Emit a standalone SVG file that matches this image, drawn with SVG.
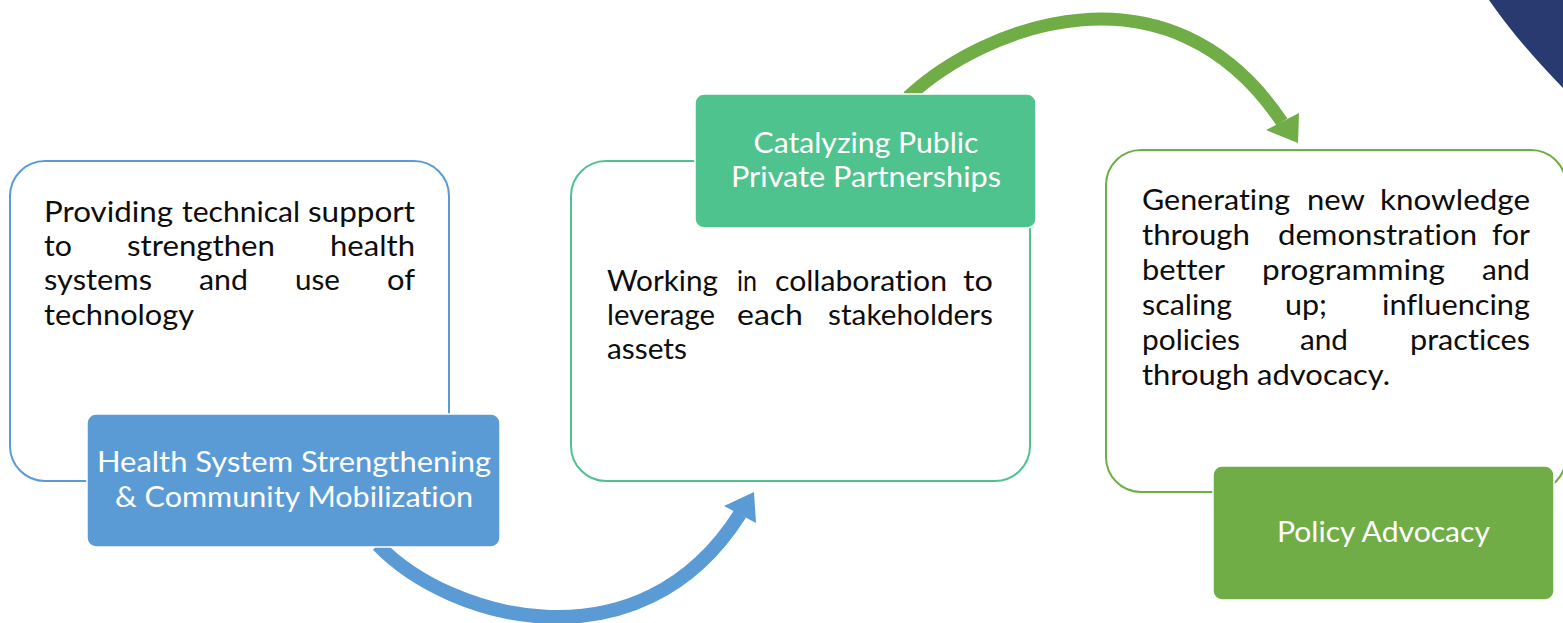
<svg xmlns="http://www.w3.org/2000/svg" width="1563" height="623" viewBox="0 0 1563 623">
  <style>
    .body { font-family: Lato, "Open Sans", sans-serif; font-size: 28px; fill: #0d0d0d; font-variant-ligatures: none; }
    .head { font-family: Lato, "Open Sans", sans-serif; font-size: 28px; fill: #ffffff; text-anchor: middle; font-variant-ligatures: none; }
    .frame { fill: #ffffff; stroke-width: 2; }
    .tab { stroke: #ffffff; stroke-width: 1.5; }
    .arc { fill: none; stroke-linecap: butt; }
  </style>
  <rect width="1563" height="623" fill="#ffffff"/>

  <!-- corner accent -->
  <path d="M1489,0 Q1518,42 1563,88 L1563,0 Z" fill="#283a70"/>

  <!-- connectors -->
  <g id="connectors">
    <path class="arc" d="M378,545 C450,620 640,672 740,514" stroke="#5b9bd5" stroke-width="14"/>
    <polygon points="724,506 756,523 754,492" fill="#5b9bd5"/>
    <path class="arc" d="M908,97 C985,25 1170,-45 1282,122" stroke="#70ad47" stroke-width="13"/>
    <polygon points="1266,130 1299,113 1298,143" fill="#70ad47"/>
  </g>

  <!-- step 1 -->
  <g id="step-health-system">
    <rect class="frame" x="10" y="161" width="439" height="320" rx="35" stroke="#5b9bd5"/>
    <text class="body" y="222"><tspan x="44" textLength="129" lengthAdjust="spacingAndGlyphs">Providing</tspan><tspan x="182" textLength="118" lengthAdjust="spacingAndGlyphs">technical</tspan><tspan x="308" textLength="107" lengthAdjust="spacingAndGlyphs">support</tspan></text>
    <text class="body" y="256"><tspan x="44" textLength="28" lengthAdjust="spacingAndGlyphs">to</tspan><tspan x="127" textLength="148" lengthAdjust="spacingAndGlyphs">strengthen</tspan><tspan x="330" textLength="85" lengthAdjust="spacingAndGlyphs">health</tspan></text>
    <text class="body" y="290"><tspan x="44" textLength="108" lengthAdjust="spacingAndGlyphs">systems</tspan><tspan x="199" textLength="49" lengthAdjust="spacingAndGlyphs">and</tspan><tspan x="295" textLength="45" lengthAdjust="spacingAndGlyphs">use</tspan><tspan x="387" textLength="28" lengthAdjust="spacingAndGlyphs">of</tspan></text>
    <text class="body" y="325"><tspan x="44" textLength="150" lengthAdjust="spacingAndGlyphs">technology</tspan></text>
    <rect class="tab" x="87" y="414" width="413" height="133" rx="9" fill="#5b9bd5"/>
    <text class="head" x="294" y="472" textLength="394" lengthAdjust="spacingAndGlyphs">Health System Strengthening</text>
    <text class="head" x="294" y="507" textLength="358" lengthAdjust="spacingAndGlyphs">&amp; Community Mobilization</text>
  </g>

  <!-- step 2 -->
  <g id="step-partnerships">
    <rect class="frame" x="571" y="161" width="459" height="320" rx="35" stroke="#4fc38e"/>
    <text class="body" y="291"><tspan x="607" textLength="111" lengthAdjust="spacingAndGlyphs">Working</tspan><tspan x="737" textLength="20" lengthAdjust="spacingAndGlyphs">in</tspan><tspan x="775" textLength="172" lengthAdjust="spacingAndGlyphs">collaboration</tspan><tspan x="963" textLength="30" lengthAdjust="spacingAndGlyphs">to</tspan></text>
    <text class="body" y="325"><tspan x="607" textLength="108" lengthAdjust="spacingAndGlyphs">leverage</tspan><tspan x="737" textLength="66" lengthAdjust="spacingAndGlyphs">each</tspan><tspan x="828" textLength="165" lengthAdjust="spacingAndGlyphs">stakeholders</tspan></text>
    <text class="body" y="359"><tspan x="607" textLength="80" lengthAdjust="spacingAndGlyphs">assets</tspan></text>
    <rect class="tab" x="695" y="94" width="341" height="134" rx="9" fill="#4fc38e"/>
    <text class="head" x="866" y="153" textLength="225" lengthAdjust="spacingAndGlyphs">Catalyzing Public</text>
    <text class="head" x="866" y="187" textLength="270" lengthAdjust="spacingAndGlyphs">Private Partnerships</text>
  </g>

  <!-- step 3 -->
  <g id="step-policy">
    <rect class="frame" x="1106" y="150" width="460" height="342" rx="35" stroke="#70ad47"/>
    <text class="body" y="210"><tspan x="1142" textLength="148" lengthAdjust="spacingAndGlyphs">Generating</tspan><tspan x="1307" textLength="58" lengthAdjust="spacingAndGlyphs">new</tspan><tspan x="1380" textLength="150" lengthAdjust="spacingAndGlyphs">knowledge</tspan></text>
    <text class="body" y="245"><tspan x="1142" textLength="108" lengthAdjust="spacingAndGlyphs">through</tspan><tspan x="1278" textLength="199" lengthAdjust="spacingAndGlyphs">demonstration</tspan><tspan x="1492" textLength="38" lengthAdjust="spacingAndGlyphs">for</tspan></text>
    <text class="body" y="280"><tspan x="1142" textLength="83" lengthAdjust="spacingAndGlyphs">better</tspan><tspan x="1262" textLength="183" lengthAdjust="spacingAndGlyphs">programming</tspan><tspan x="1482" textLength="48" lengthAdjust="spacingAndGlyphs">and</tspan></text>
    <text class="body" y="315"><tspan x="1142" textLength="90" lengthAdjust="spacingAndGlyphs">scaling</tspan><tspan x="1285" textLength="42" lengthAdjust="spacingAndGlyphs">up;</tspan><tspan x="1382" textLength="148" lengthAdjust="spacingAndGlyphs">influencing</tspan></text>
    <text class="body" y="350"><tspan x="1142" textLength="98" lengthAdjust="spacingAndGlyphs">policies</tspan><tspan x="1300" textLength="48" lengthAdjust="spacingAndGlyphs">and</tspan><tspan x="1410" textLength="120" lengthAdjust="spacingAndGlyphs">practices</tspan></text>
    <text class="body" y="385"><tspan x="1142" textLength="248" lengthAdjust="spacingAndGlyphs">through advocacy.</tspan></text>
    <rect class="tab" x="1213" y="466" width="341" height="134" rx="9" fill="#70ad47"/>
    <text class="head" x="1383.5" y="542" textLength="213" lengthAdjust="spacingAndGlyphs">Policy Advocacy</text>
  </g>
</svg>
